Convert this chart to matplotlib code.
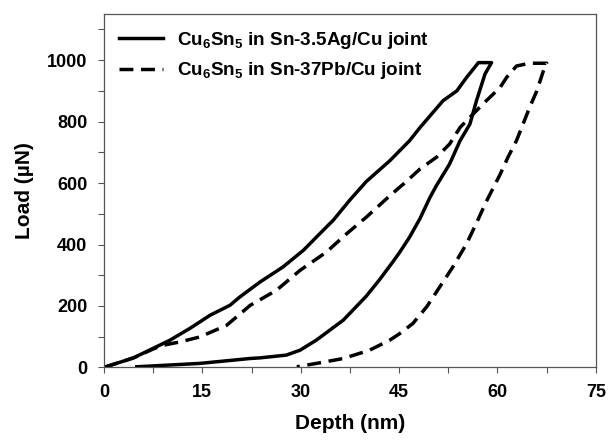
import matplotlib
matplotlib.use("Agg")
import matplotlib.pyplot as plt
from matplotlib.ticker import MultipleLocator

plt.rcParams["font.family"] = ["Liberation Sans", "DejaVu Sans"]
plt.rcParams["font.weight"] = "bold"
plt.rcParams["mathtext.fontset"] = "custom"
plt.rcParams["mathtext.rm"] = "Liberation Sans:bold"
plt.rcParams["mathtext.default"] = "rm"

# Cu6Sn5 in Sn-3.5Ag/Cu joint: loading, hold, unloading (depth nm, load uN)
ag_x = [0, 4.5, 7.5, 10.1, 13.1, 16.2, 19.2, 20.7, 23.8, 27.3, 30.4, 32.9, 35.0,
        37.5, 40.0, 43.6, 46.6, 48.2, 51.7, 53.8, 55.3, 57.1, 59.1,
        58.1, 56.8, 55.8, 54.3, 52.7, 50.7, 49.7, 48.2, 46.6, 45.1, 44.1, 42.0,
        40.0, 36.5, 32.4, 29.9, 27.8, 23.8, 22.3, 14.6, 5.0]
ag_y = [0, 31, 62, 89, 127, 170, 202, 229, 278, 327, 381, 435, 480,
        545, 605, 673, 738, 781, 868, 900, 944, 992, 992,
        955, 868, 792, 738, 662, 592, 553, 485, 424, 375, 345, 285,
        232, 154, 89, 56, 40, 31, 29, 13, 2]

# Cu6Sn5 in Sn-37Pb/Cu joint
pb_x = [0, 4.5, 7.5, 9.0, 11.6, 14.6, 18.7, 22.3, 26.3, 29.9, 33.9, 37.0, 40.0,
        43.6, 46.1, 48.2, 50.7, 52.7, 54.3, 56.3, 58.3, 60.4, 61.4, 62.9, 64.9, 67.5,
        67.0, 66.0, 64.9, 63.9, 62.9, 61.6, 60.4, 58.3, 56.8, 55.3, 53.2, 51.2,
        49.2, 47.1, 45.1, 43.6, 40.5, 36.5, 32.4, 29.4]
pb_y = [0, 31, 60, 72, 83, 99, 137, 202, 251, 316, 375, 435, 489,
        559, 605, 646, 684, 727, 781, 825, 868, 911, 944, 981, 990, 990,
        965, 900, 846, 792, 738, 684, 628, 540, 470, 403, 327, 262,
        197, 143, 110, 89, 56, 29, 13, 2]

labels = [r"Cu$_{6}$Sn$_{5}$ in Sn-3.5Ag/Cu joint",
          r"Cu$_{6}$Sn$_{5}$ in Sn-37Pb/Cu joint"]

fig = plt.figure(figsize=(6.08, 4.4), dpi=100)
ax = fig.add_axes([0.171, 0.165, 0.809, 0.803])

ax.plot(ag_x, ag_y, color="black", lw=2.5, label=labels[0])
ax.plot(pb_x, pb_y, color="black", lw=2.5, dashes=(4, 2.2), label=labels[1])

ax.set_xlim(0, 75)
ax.set_ylim(0, 1150)
ax.xaxis.set_major_locator(MultipleLocator(15))
ax.xaxis.set_minor_locator(MultipleLocator(7.5))
ax.yaxis.set_major_locator(MultipleLocator(200))
ax.yaxis.set_minor_locator(MultipleLocator(100))
ax.tick_params(which="both", direction="out", length=4, width=0.8,
               color="#555555", labelsize=13)
ax.tick_params(axis="x", pad=8)
ax.tick_params(axis="y", pad=8)
for s in ax.spines.values():
    s.set_color("#555555")
    s.set_linewidth(0.9)

ax.set_xlabel("Depth (nm)", fontsize=15, fontweight="bold", labelpad=9)
ax.set_ylabel("Load (\u00b5N)", fontsize=15, fontweight="bold", labelpad=9)

ax.legend(loc="upper left", frameon=False, fontsize=13.6, handlelength=2.3,
          borderaxespad=0.3, labelspacing=0.5, handletextpad=0.75,
          bbox_to_anchor=(0.004, 0.993))

fig.savefig("out.png", dpi=100)
